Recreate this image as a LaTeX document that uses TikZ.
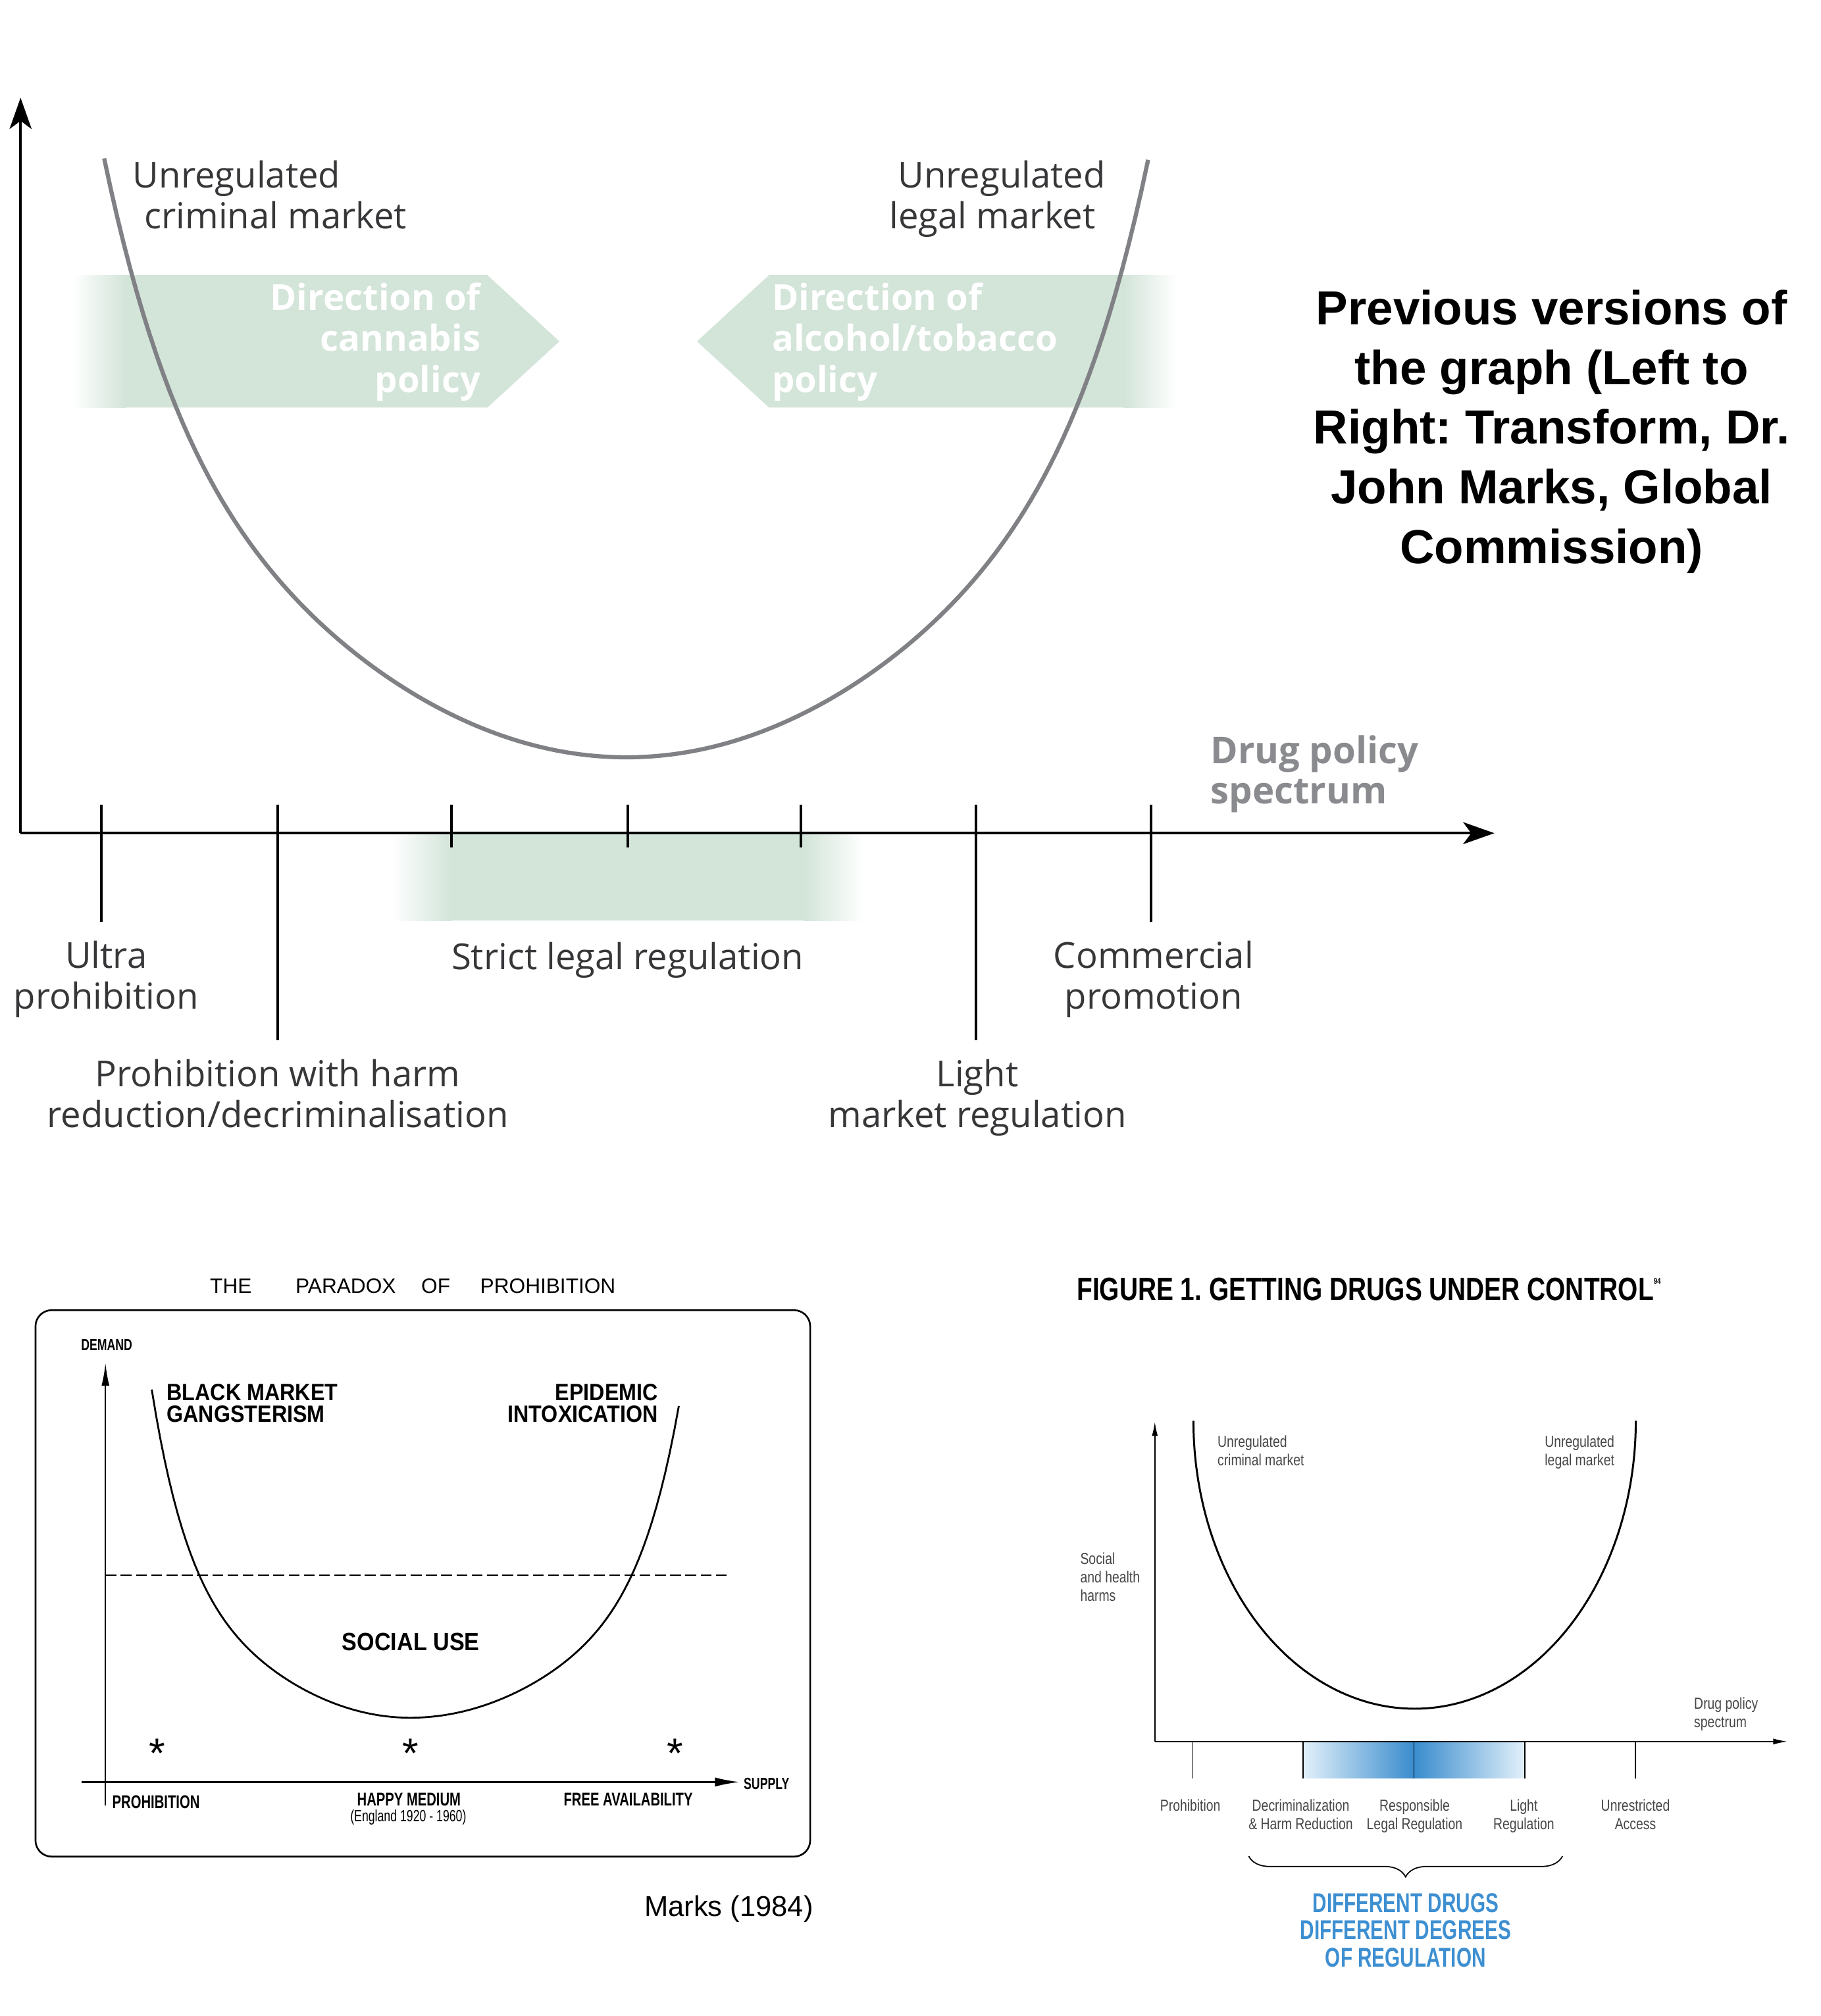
\documentclass[tikz,border=0pt]{standalone}
\usepackage{fontspec}
\usetikzlibrary{arrows.meta,positioning,decorations.pathreplacing}
\setmainfont{Liberation Sans}
\newfontfamily\transfont{Open Sans}
\newfontfamily\marksfont{Liberation Sans}[FakeStretch=0.9]
\newfontfamily\marksnarrow{Liberation Sans}[FakeStretch=0.72]
\newfontfamily\gcfont{Liberation Sans}[FakeStretch=0.8]
\newfontfamily\gchead{Liberation Sans}[FakeStretch=0.79]
\newfontfamily\gcblock{Liberation Sans}[FakeStretch=0.72]
\frenchspacing

\definecolor{bandgreen}{RGB}{211,228,217}
\definecolor{curvegray}{RGB}{128,129,133}
\definecolor{labelgray}{RGB}{55,55,58}
\definecolor{spectrumgray}{RGB}{138,139,143}
\definecolor{gcblue}{RGB}{58,140,205}
\definecolor{gcpale}{RGB}{226,240,250}
\definecolor{gctext}{RGB}{70,70,72}
\definecolor{gcheadblue}{RGB}{61,143,209}

\tikzset{
  every node/.style={inner sep=0pt},
  toplabel/.style={font=\transfont\fontsize{15.5}{17.8}\selectfont, text=labelgray, align=center},
  arrowtext/.style={font=\transfont\bfseries\fontsize{15.5}{17.9}\selectfont, text=white},
  topaxis/.style={line width=1.1pt, -{Stealth[length=13.5pt, width=9.5pt, inset=3.5pt]}},
  toptick/.style={line width=1.1pt},
  marksbig/.style={font=\marksfont\bfseries\fontsize{10.2}{9.2}\selectfont},
  markssmall/.style={font=\marksnarrow\bfseries\fontsize{8}{9}\selectfont},
  marksaxis/.style={line width=0.7pt},
  gclabel/.style={font=\gcfont\fontsize{6.9}{8.05}\selectfont, text=gctext},
  gcaxis/.style={line width=0.55pt, -{Latex[length=6.2pt, width=2.6pt]}},
}

\begin{document}
\begin{tikzpicture}[x=0.019541cm, y=-0.019541cm]
\useasboundingbox (0,0) rectangle (1416,1568);

% Transform graph
\coordinate (t-o) at (16,648);
\coordinate (t-ytip) at (16,76);
\coordinate (t-xtip) at (1162,648);

\shade[left color=white, right color=bandgreen] (56,214) rectangle (98,317);
\fill[bandgreen] (97,214) -- (379,214) -- (435,265.5) -- (379,317) -- (97,317) -- cycle;
\fill[bandgreen] (542,265.5) -- (598,214) -- (875,214) -- (875,317) -- (598,317) -- cycle;
\shade[left color=bandgreen, right color=white] (874,214) rectangle (915,317);
\shade[left color=white, right color=bandgreen] (305,648) rectangle (351,716);
\fill[bandgreen] (350,648) rectangle (626,716);
\shade[left color=bandgreen, right color=white] (625,648) rectangle (672,716);

\node[arrowtext, anchor=base east, align=right] (cannabis) at (374,305.4) {Direction of\\cannabis\\policy};
\node[arrowtext, anchor=base west, align=left] (alcohol) at (600,305.4) {Direction of\\alcohol/tobacco\\policy};

\draw[curvegray, line width=1.8pt] plot[domain=-4.06:4.06, samples=161]
  ({487+100*\x}, {589-18*\x*\x-169*(\x*\x/16.48)^4});

\draw[topaxis] (t-o) -- (t-ytip);
\draw[topaxis] (t-o) -- (t-xtip);
\foreach \tx/\ty in {79/717, 216/809, 351/659, 488/659, 623/659, 759/809, 895/717}
  \draw[toptick] (\tx,626) -- (\tx,\ty);

\node[toplabel, anchor=base west, align=left] (criminal) at (103,178) {Unregulated\\\hspace*{5pt}criminal market};
\node[toplabel, anchor=base east, align=right] (legal) at (860,178) {Unregulated\\legal market\hspace*{4.4pt}};
\node[toplabel, anchor=base] (ultra) at (82.5,785) {Ultra\\prohibition};
\node[toplabel, anchor=base] (strict) at (488,754) {Strict legal regulation};
\node[toplabel, anchor=base] (commercial) at (897,785) {Commercial\\promotion};
\node[toplabel, anchor=base] (harm) at (216,877) {Prohibition with harm\\reduction/decriminalisation};
\node[toplabel, anchor=base] (light) at (760,877) {Light\\market regulation};
\node[font=\transfont\bfseries\fontsize{16}{17.4}\selectfont, text=spectrumgray, anchor=base west, align=left] (spectrum) at (941,625) {Drug policy\\spectrum};

\node[font=\fontsize{20.7}{25.8}\selectfont\bfseries, anchor=base, align=center] (title) at (1206.5,438.2)
  {Previous versions of\\the graph (Left to\\Right: Transform, Dr.\\John Marks, Global\\Commission)};

% Marks graph
\coordinate (m-o) at (82,1386);
\coordinate (m-ybot) at (82,1404);
\coordinate (m-ytip) at (82,1060);
\coordinate (m-xleft) at (63.6,1386);
\coordinate (m-xtip) at (575,1386);

\node[font=\fontsize{9}{10}\selectfont, anchor=base west] (paradox) at (163,1006)
  {THE\hspace{19pt}PARADOX\hspace{11pt}OF\hspace{13pt}PROHIBITION};
\draw[line width=0.75pt, rounded corners=7pt] (27.6,1019) rectangle (630,1444);
\node[font=\marksnarrow\bfseries\fontsize{7}{8}\selectfont, anchor=base] (demand) at (83,1050.5) {DEMAND};
\draw[marksaxis, -{Latex[length=9.9pt, width=3.4pt]}] (m-ybot) -- (m-ytip);
\draw[marksaxis, -{Latex[length=10.6pt, width=4pt]}] (m-xleft) -- (m-xtip);
\node[font=\marksnarrow\bfseries\fontsize{7}{8}\selectfont, anchor=base west] (supply) at (578,1391.5) {SUPPLY};
\draw[line width=0.5pt, dash pattern=on 4.7pt off 1.9pt] (82,1225) -- (566,1225);
\draw[line width=0.8pt] plot[domain=-2.01:1.99, samples=121]
  ({319+100*\x*(\x<0?1:1.05)}, {1336-32*\x*\x-126*(\x*\x/4.0401)^4});

\node[marksbig, anchor=base west, align=left] (black) at (129.4,1106) {BLACK MARKET\\GANGSTERISM};
\node[marksbig, anchor=base east, align=right] (epidemic) at (512,1106) {EPIDEMIC\\INTOXICATION};
\node[font=\marksfont\bfseries\fontsize{10.8}{12}\selectfont, anchor=base] (social) at (319.5,1283.6) {SOCIAL USE};
\foreach \ax in {122,319,525}
  \node[font=\fontsize{18}{18}\selectfont, anchor=base] at (\ax,1374.6) {*};
\node[markssmall, anchor=base west] (prohib) at (87,1406.4) {PROHIBITION};
\node[markssmall, anchor=base] (happy) at (318,1404.4) {HAPPY MEDIUM};
\node[font=\marksnarrow\fontsize{7}{8}\selectfont, anchor=base] (england) at (317.5,1416.7) {(England 1920 - 1960)};
\node[markssmall, anchor=base] (free) at (488.5,1404.4) {FREE AVAILABILITY};
\node[font=\fontsize{12.4}{14}\selectfont, anchor=base west] (marks) at (500.7,1490.4) {Marks (1984)};

% Global Commission graph
\coordinate (g-o) at (898,1354.5);
\coordinate (g-ytip) at (898,1105.7);
\coordinate (g-xtip) at (1390,1354.5);

\node[font=\gchead\bfseries\fontsize{14}{16}\selectfont, anchor=base west] (figure) at (837,1011.3)
  {FIGURE 1. GETTING DRUGS UNDER CONTROL\raisebox{7pt}{\fontsize{3.5}{4}\selectfont 94}};
\shade[left color=gcpale, right color=gcpale, middle color=gcblue] (1013.4,1354.5) rectangle (1185.6,1383);
\draw[gcaxis] (g-o) -- (g-ytip);
\draw[gcaxis] (g-o) -- (g-xtip);
\foreach \gx in {927,1013.4,1099.5,1185.6,1271.7}
  \draw[line width=0.5pt] (\gx,1354.5) -- (\gx,1383);
\draw[line width=0.85pt] plot[domain=180:360, samples=121] ({1100+172*cos(\x)}, {1105-224*sin(\x)});

\node[gclabel, anchor=base west, align=left] (gcrim) at (946.4,1140) {Unregulated\\criminal market};
\node[gclabel, anchor=base east, align=right] (glegal) at (1255.7,1140) {Unregulated\\legal market};
\node[gclabel, anchor=base west, align=left] (harms) at (839.7,1245.5) {Social\\and health\\harms};
\node[gclabel, anchor=base west, align=left] (gspec) at (1317,1343.8) {Drug policy\\spectrum};
\node[gclabel, anchor=base, align=center] (gprohib) at (925.6,1408.5) {Prohibition};
\node[gclabel, anchor=base, align=center] (gdecrim) at (1011.5,1423) {Decriminalization\\\& Harm Reduction};
\node[gclabel, anchor=base, align=center] (gresp) at (1100,1423) {Responsible\\Legal Regulation};
\node[gclabel, anchor=base, align=center] (glight) at (1184.9,1423) {Light\\Regulation};
\node[gclabel, anchor=base, align=center] (gunres) at (1271.7,1423) {Unrestricted\\Access};

\coordinate (b-left) at (971,1443.6);
\coordinate (b-right) at (1215,1443.6);
\draw[line width=0.5pt, decorate, decoration={brace, mirror, amplitude=9pt}] (b-left) -- (b-right);
\node[font=\gcblock\bfseries\fontsize{11.75}{11.7}\selectfont, text=gcheadblue, anchor=base, align=center] (degrees) at (1093,1529.6)
  {DIFFERENT DRUGS\\DIFFERENT DEGREES\\OF REGULATION};
\end{tikzpicture}
\end{document}
